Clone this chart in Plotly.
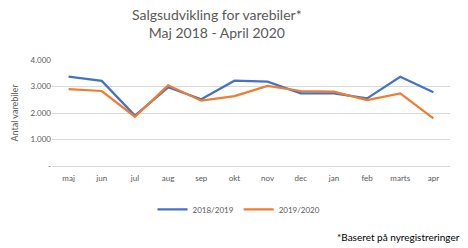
import plotly.graph_objects as go

months = ["maj", "jun", "jul", "aug", "sep", "okt", "nov", "dec", "jan", "feb", "marts", "apr"]
s2018_2019 = [3370, 3210, 1900, 2970, 2520, 3220, 3180, 2740, 2740, 2550, 3370, 2780]
s2019_2020 = [2905, 2830, 1860, 3045, 2465, 2640, 3020, 2830, 2805, 2490, 2740, 1800]
ytick_vals = [0, 1000, 2000, 3000, 4000]
ytick_text = ["-", "1.000", "2.000", "3.000", "4.000"]

font_family = "Lato, 'Open Sans', sans-serif"
fig = go.Figure()
fig.add_trace(go.Scatter(x=months, y=s2018_2019, mode="lines", name="2018/2019",
                         line=dict(color="#4472C4", width=2.25)))
fig.add_trace(go.Scatter(x=months, y=s2019_2020, mode="lines", name="2019/2020",
                         line=dict(color="#ED7D31", width=2.25)))

fig.update_layout(
    width=468, height=248,
    margin=dict(l=52, r=18, t=60, b=82),
    paper_bgcolor="white", plot_bgcolor="white",
    font=dict(family=font_family, color="#595959", size=8),
    showlegend=True,
    legend=dict(orientation="h", x=0.47, xanchor="center", y=-0.41, yanchor="middle",
                font=dict(size=8, color="#595959"), itemwidth=30),
    xaxis=dict(range=[-0.5, 11.5], showgrid=False, showline=True, linecolor="#d9d9d9", linewidth=1,
               ticks="", ticklabelstandoff=4, tickfont=dict(size=8, color="#595959")),
    yaxis=dict(range=[0, 4000], tickvals=ytick_vals, ticktext=ytick_text,
               showgrid=True, gridcolor="#d9d9d9", gridwidth=1, zeroline=False,
               tickfont=dict(size=8, color="#595959"),
               title=dict(text="Antal varebiler", font=dict(size=9, color="#595959"), standoff=10)),
    annotations=[
        dict(text="Salgsudvikling for varebiler*<br>Maj 2018 - April 2020", xref="paper", yref="paper",
             x=0.415, y=1.34, xanchor="center", yanchor="middle", showarrow=False,
             font=dict(size=14, color="#595959", family=font_family)),
        dict(text="*Baseret på nyregistreringer", xref="paper", yref="paper",
             x=1.03, y=-0.67, xanchor="right", yanchor="middle", showarrow=False,
             font=dict(size=10, color="#000000", family=font_family)),
    ]
)
fig.write_html("out.html")
